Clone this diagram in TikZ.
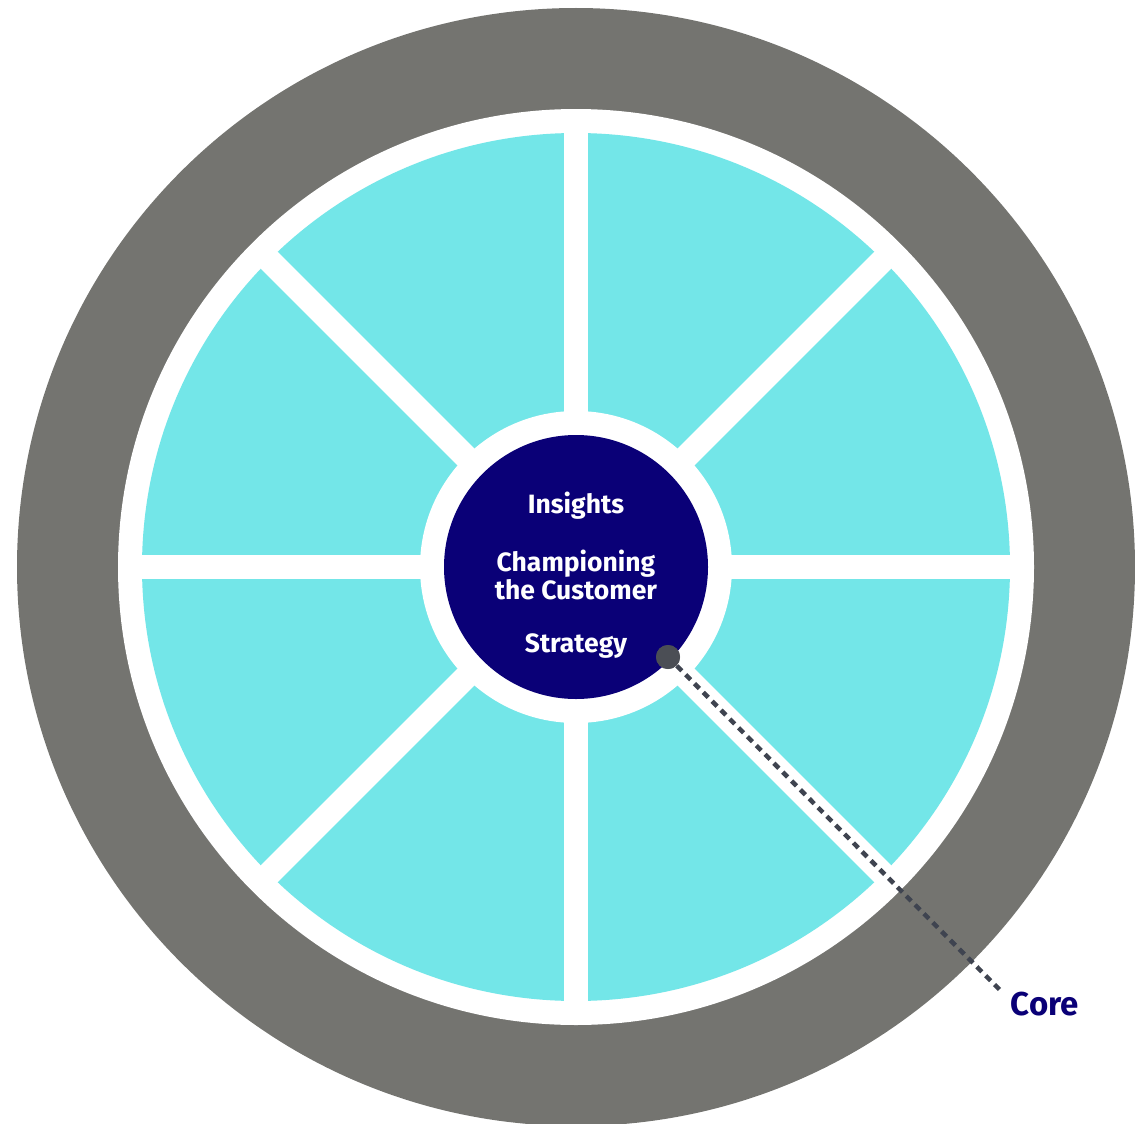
\documentclass[tikz,border=0pt]{standalone}
\usepackage{fontspec}
\setmainfont{Fira Sans}
\definecolor{ringgray}{HTML}{747470}
\definecolor{segcyan}{HTML}{73E6E8}
\definecolor{corenavy}{HTML}{0A0077}
\definecolor{dotgray}{HTML}{4B4E55}
\definecolor{dashgray}{HTML}{3F4450}
\begin{document}
\begin{tikzpicture}[x=1pt,y=-1pt,
  centertext/.style={text=white,font=\bfseries\fontsize{26.5}{28}\selectfont,align=center,inner sep=0pt},
  spoke/.style={white,line width=24pt},
  leader/.style={dashgray,line width=4.5pt,dash pattern=on 7pt off 5.5pt}]
\useasboundingbox (0,0) rectangle (1135,1124);
\coordinate (c) at (576,567);
\fill[ringgray] (c) circle[radius=559];
\fill[white] (c) circle[radius=458];
\fill[segcyan] (c) circle[radius=434];
\foreach \a in {0,45,...,315} \draw[spoke] (c) -- ++(\a:440);
\fill[white] (c) circle[radius=156];
\fill[corenavy] (c) circle[radius=132];
\node[centertext] (ins) at (576,506) {Insights};
\node[centertext] (champ) at (576,575) {Championing\\the Customer};
\node[centertext] (strat) at (576,646) {Strategy};
\coordinate (coreend) at (1000,990);
\node[circle,fill=dotgray,minimum size=24pt,inner sep=0pt] (dot) at (668,657) {};
\draw[leader] (dot.center) -- (coreend);
\fill[dotgray] (dot) circle[radius=12];
\node[text=corenavy,font=\bfseries\fontsize{33}{36}\selectfont,inner sep=0pt] (core) at (1045,1004) {Core};
\end{tikzpicture}
\end{document}
